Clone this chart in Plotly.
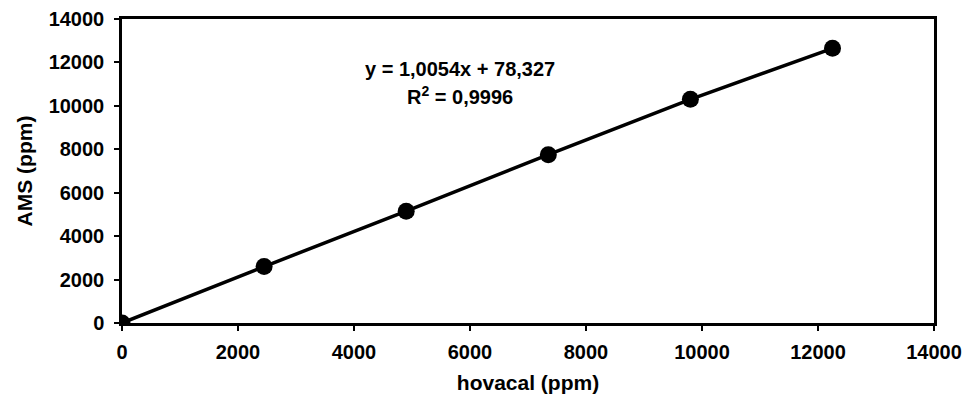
import plotly.graph_objects as go

# data
hovacal = [0, 2450, 4900, 7350, 9800, 12250]
ams = [0, 2600, 5150, 7750, 10300, 12650]
x_ticks = [0, 2000, 4000, 6000, 8000, 10000, 12000, 14000]
y_ticks = [0, 2000, 4000, 6000, 8000, 10000, 12000, 14000]
equation = "y = 1,0054x + 78,327"
r_squared = "R<sup>2</sup> = 0,9996"

FONT = "Liberation Sans"

fig = go.Figure()
fig.add_trace(go.Scatter(
    x=hovacal, y=ams, mode="lines+markers",
    line=dict(color="black", width=3.5),
    marker=dict(color="black", size=17),
    showlegend=False,
))

axis_common = dict(
    showgrid=False, zeroline=False, automargin=False,
    showline=True, linecolor="black", linewidth=2.5, mirror=True,
    ticks="outside", ticklen=5, tickwidth=2, tickcolor="black",
    ticklabeloverflow="allow",
    tickfont=dict(family=FONT, size=20, color="black", weight="bold"),
)

fig.update_layout(
    width=966, height=394,
    margin=dict(l=122, r=32, t=19, b=71),
    paper_bgcolor="white", plot_bgcolor="white",
    xaxis=dict(range=[0, 14000], tickvals=x_ticks,
               ticktext=[str(v) for v in x_ticks],
               ticklabelstandoff=4,
               title=dict(text="<b>hovacal (ppm)</b>",
                          font=dict(family=FONT, size=21, color="black"),
                          standoff=17),
               **axis_common),
    yaxis=dict(range=[0, 14000], tickvals=y_ticks,
               ticktext=[str(v) for v in y_ticks],
               ticklabelstandoff=6,
               title=dict(text="<b>AMS (ppm)</b>",
                          font=dict(family=FONT, size=21, color="black"),
                          standoff=11),
               **axis_common),
    annotations=[
        dict(x=0.416, y=0.879, xref="paper", yref="paper", showarrow=False,
             text="<b>" + equation + "</b>",
             font=dict(family=FONT, size=20, color="black")),
        dict(x=0.416, y=0.797, xref="paper", yref="paper", showarrow=False,
             text="<b>" + r_squared + "</b>",
             font=dict(family=FONT, size=20, color="black")),
    ],
)

fig.write_html(
    "out.html",
    config={"displayModeBar": False},
    post_script="document.body.style.margin='0';"
                "document.documentElement.style.overflow='hidden';",
)
